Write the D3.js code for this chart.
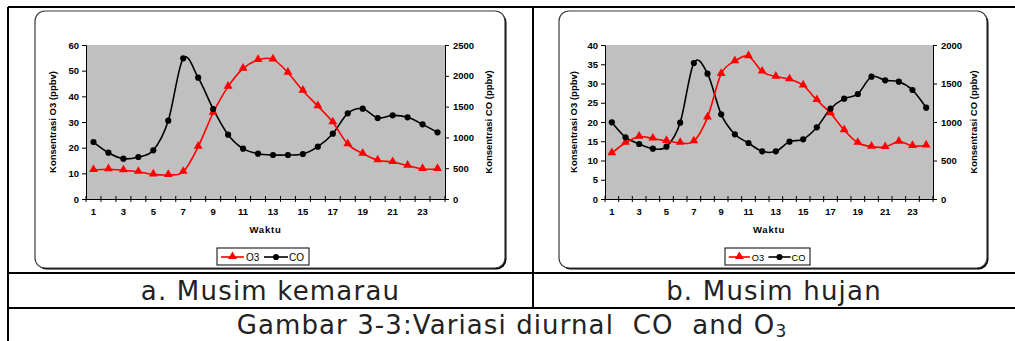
<!DOCTYPE html>
<html lang="en">
  <head>
    <meta charset="utf-8" />
    <title>Variasi diurnal CO dan O3</title>
    <script type="text/javascript" src="https://d3js.org/d3.v7.min.js"></script>
    <style>
      body { margin: 0; background: #fff; }
      svg { display: block; }
    </style>
  </head>
  <body>
    <div id="chart"></div>

    <script type="text/javascript">
      /********************************
       * data
       ********************************/

      const hours = d3.range(1, 25); // Waktu 1..24
      const hourLabels = [1, 3, 5, 7, 9, 11, 13, 15, 17, 19, 21, 23];

      // a. Musim kemarau
      const o3Kemarau = [11.3, 11.6, 11.2, 10.6, 9.6, 9.4, 10.6, 20.4, 33.6, 43.8, 50.8, 54.2,
        54.4, 49.2, 42.2, 36.2, 29.9, 21.4, 17.7, 15.1, 14.4, 13.0, 11.7, 11.7];
      const coKemarau = [925, 752, 655, 682, 790, 1272, 2283, 1970, 1461, 1044, 817, 736,
        714, 714, 730, 850, 1060, 1391, 1466, 1315, 1358, 1326, 1212, 1082];
      const o3TicksKemarau = [0, 10, 20, 30, 40, 50, 60];
      const coTicksKemarau = [0, 500, 1000, 1500, 2000, 2500];

      // b. Musim hujan
      const o3Hujan = [11.9, 14.6, 16.2, 15.7, 15.1, 14.6, 15.0, 21.2, 32.5, 35.8, 37.1, 33.1,
        31.8, 31.1, 29.5, 25.7, 22.3, 17.9, 14.6, 13.6, 13.5, 14.9, 13.8, 13.9];
      const coHujan = [996, 801, 714, 654, 680, 991, 1766, 1628, 1100, 840, 727, 619,
        619, 745, 775, 931, 1173, 1303, 1364, 1589, 1541, 1524, 1416, 1186];
      const o3TicksHujan = [0, 5, 10, 15, 20, 25, 30, 35, 40];
      const coTicksHujan = [0, 500, 1000, 1500, 2000];

      const captionA = "a. Musim kemarau";
      const captionB = "b. Musim hujan";

      /***************************
       * svg
       **************************/

      const width = 1015;
      const height = 341;

      const svg = d3
        .select("div#chart")
        .append("svg")
        .attr("width", width)
        .attr("height", height);

      const chartFont = "'Liberation Sans', Arial, sans-serif";
      const captionFont = "'DejaVu Sans', Verdana, sans-serif";

      /***************************
       * table lines
       **************************/

      const table = svg.append("g").attr("stroke", "#000").attr("stroke-width", 2);
      [[8, 7, 1015, 7], [8, 273, 1015, 273], [8, 308, 1015, 308],
       [8, 7, 8, 341], [533, 7, 533, 308]].forEach((l) => {
        table.append("line")
          .attr("x1", l[0]).attr("y1", l[1])
          .attr("x2", l[2]).attr("y2", l[3]);
      });

      /***************************
       * one panel
       **************************/

      function drawPanel(p) {
        const g = svg.append("g");

        // rounded chart box with a dark shadow at bottom-right
        g.append("rect")
          .attr("x", p.box[0] + 1.5).attr("y", p.box[1] + 1.5)
          .attr("width", p.box[2] - p.box[0]).attr("height", p.box[3] - p.box[1])
          .attr("rx", 10)
          .attr("fill", "#000");
        g.append("rect")
          .attr("x", p.box[0]).attr("y", p.box[1])
          .attr("width", p.box[2] - p.box[0]).attr("height", p.box[3] - p.box[1])
          .attr("rx", 10)
          .attr("fill", "#fff")
          .attr("stroke", "#3a3a3a")
          .attr("stroke-width", 1.2);

        const left = p.plot[0], top = p.plot[1], right = p.plot[2], bottom = p.plot[3];

        // scales
        const x = d3.scaleBand().domain(hours).range([left, right]).padding(0);
        const xEdge = d3.scaleLinear().domain([0, hours.length]).range([left, right]);
        const yO3 = d3.scaleLinear().domain([0, d3.max(p.o3Ticks)]).range([bottom, top]);
        const yCO = d3.scaleLinear().domain([0, d3.max(p.coTicks)]).range([bottom, top]);

        // plot area
        g.append("rect")
          .attr("x", left).attr("y", top)
          .attr("width", right - left).attr("height", bottom - top)
          .attr("fill", "#c0c0c0");

        // axes
        const axisLeft = g.append("g")
          .attr("transform", `translate(${left},0)`)
          .call(d3.axisLeft(yO3).tickValues(p.o3Ticks).tickFormat(d3.format("d"))
            .tickSize(4).tickPadding(3));
        const axisRight = g.append("g")
          .attr("transform", `translate(${right},0)`)
          .call(d3.axisRight(yCO).tickValues(p.coTicks).tickFormat(d3.format("d"))
            .tickSize(4).tickPadding(4));
        const axisBottom = g.append("g")
          .attr("transform", `translate(0,${bottom})`)
          .call(d3.axisBottom(x).tickValues(hourLabels).tickSize(0).tickPadding(9));

        // x tick marks sit on the category edges and cross the axis
        g.append("g")
          .selectAll("line")
          .data(d3.range(0, hours.length + 1))
          .join("line")
          .attr("x1", (d) => xEdge(d)).attr("x2", (d) => xEdge(d))
          .attr("y1", bottom - 3).attr("y2", bottom + 3)
          .attr("stroke", "#000");

        [axisLeft, axisRight, axisBottom].forEach((a) => {
          a.select(".domain").attr("stroke", "#000");
          a.selectAll(".tick line").attr("stroke", "#000");
          a.selectAll("text")
            .attr("fill", "#000")
            .style("font-family", chartFont)
            .style("font-weight", "bold")
            .style("font-size", "9.5px");
        });

        // axis titles
        const titleStyle = (t) => t
          .attr("text-anchor", "middle")
          .style("font-family", chartFont)
          .style("font-weight", "bold")
          .style("font-size", "9.5px");

        g.append("text")
          .attr("transform", `translate(${left - p.titleOffset[0]},${(top + bottom) / 2}) rotate(-90)`)
          .text("Konsentrasi O3 (ppbv)")
          .call(titleStyle);
        g.append("text")
          .attr("transform", `translate(${right + p.titleOffset[1]},${(top + bottom) / 2}) rotate(-90)`)
          .text("Konsentrasi CO (ppbv)")
          .call(titleStyle);
        g.append("text")
          .attr("x", (left + right) / 2)
          .attr("y", bottom + 34)
          .style("letter-spacing", "0.8px")
          .text("Waktu")
          .call(titleStyle);

        // series
        const cx = (d, i) => x(hours[i]) + x.bandwidth() / 2;
        const lineO3 = d3.line().x(cx).y((d) => yO3(d)).curve(d3.curveCardinal.tension(0));
        const lineCO = d3.line().x(cx).y((d) => yCO(d)).curve(d3.curveCardinal.tension(0));

        g.append("path")
          .attr("d", lineCO(p.co))
          .attr("fill", "none").attr("stroke", "#000").attr("stroke-width", 1.6);
        g.append("path")
          .attr("d", lineO3(p.o3))
          .attr("fill", "none").attr("stroke", "#ff0000").attr("stroke-width", 1.6);

        const tri = d3.symbol().type(d3.symbolTriangle).size(34);
        const dot = d3.symbol().type(d3.symbolCircle).size(30);

        g.append("g")
          .selectAll("path")
          .data(p.o3)
          .join("path")
          .attr("d", tri)
          .attr("transform", (d, i) => `translate(${cx(d, i)},${yO3(d) - 0.5})`)
          .attr("fill", "#ff0000");
        g.append("g")
          .selectAll("path")
          .data(p.co)
          .join("path")
          .attr("d", dot)
          .attr("transform", (d, i) => `translate(${cx(d, i)},${yCO(d)})`)
          .attr("fill", "#000");

        // legend (item positions scaled to the box width)
        const lx = p.legend[0], ly = p.legend[1], lw = p.legend[2];
        const k = lw / 92;
        const leg = g.append("g").attr("transform", `translate(${lx},${ly})`);
        leg.append("rect")
          .attr("width", lw).attr("height", 17)
          .attr("fill", "#fff").attr("stroke", "#000").attr("stroke-width", 1);
        leg.append("line")
          .attr("x1", 4 * k).attr("x2", 27 * k).attr("y1", 9).attr("y2", 9)
          .attr("stroke", "#ff0000").attr("stroke-width", 1.6);
        leg.append("path").attr("d", tri).attr("transform", `translate(${15.5 * k},8.5)`).attr("fill", "#ff0000");
        leg.append("text").attr("x", 29 * k).attr("y", 12.5).text("O3");
        leg.append("line")
          .attr("x1", 47 * k).attr("x2", 71 * k).attr("y1", 9).attr("y2", 9)
          .attr("stroke", "#000").attr("stroke-width", 1.6);
        leg.append("path").attr("d", dot).attr("transform", `translate(${59 * k},9)`).attr("fill", "#000");
        leg.append("text").attr("x", 72 * k).attr("y", 12.5).text("CO");
        leg.selectAll("text")
          .style("font-family", chartFont)
          .style("font-size", `${10 * k}px`);

        // caption under the chart
        svg.append("text")
          .attr("x", p.captionX)
          .attr("y", 300)
          .attr("text-anchor", "middle")
          .style("font-family", captionFont)
          .style("font-size", "26px")
          .style("letter-spacing", "1.2px")
          .attr("fill", "#222")
          .text(p.caption);
      }

      drawPanel({
        o3: o3Kemarau, co: coKemarau,
        o3Ticks: o3TicksKemarau, coTicks: coTicksKemarau,
        box: [35, 11, 505, 268],
        plot: [86, 45, 445, 199],
        titleOffset: [30, 47],
        legend: [217, 248, 92],
        caption: captionA, captionX: 270.5,
      });

      drawPanel({
        o3: o3Hujan, co: coHujan,
        o3Ticks: o3TicksHujan, coTicks: coTicksHujan,
        box: [559, 11, 987, 268],
        plot: [605, 45, 933, 199],
        titleOffset: [28, 44],
        legend: [725, 248, 85],
        caption: captionB, captionX: 774,
      });

      /***************************
       * figure caption
       **************************/

      const fig = svg.append("text")
        .attr("x", 512)
        .attr("y", 334)
        .attr("text-anchor", "middle")
        .attr("xml:space", "preserve")
        .style("white-space", "pre")
        .style("font-family", captionFont)
        .style("font-size", "26px")
        .style("letter-spacing", "1.1px")
        .attr("fill", "#222");
      fig.append("tspan").text("Gambar 3-3:Variasi diurnal  CO  and O");
      fig.append("tspan").attr("dy", 3).style("font-size", "17px").text("3");
    </script>
  </body>
</html>
